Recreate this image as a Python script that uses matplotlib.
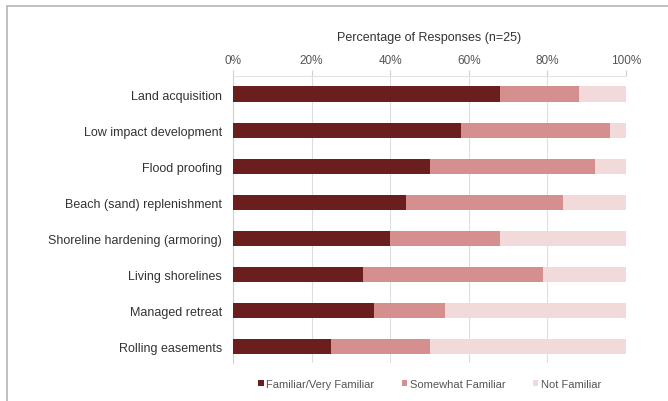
import numpy as np
from matplotlib import pyplot as plt
from matplotlib.patches import Rectangle

categories = ['Land acquisition', 'Low impact development', 'Flood proofing',
              'Beach (sand) replenishment', 'Shoreline hardening (armoring)',
              'Living shorelines', 'Managed retreat', 'Rolling easements']
familiar = np.array([68, 58, 50, 44, 40, 33, 36, 25])
somewhat = np.array([20, 38, 42, 40, 28, 46, 18, 25])
not_familiar = 100 - familiar - somewhat
series_names = ['Familiar/Very Familiar', 'Somewhat Familiar', 'Not Familiar']
colors = ['#6b1e1e', '#d68f8f', '#f3dada']

plt.rcParams['font.family'] = ['Liberation Sans', 'DejaVu Sans']

fig = plt.figure(figsize=(6.68, 4.02), dpi=100)
ax = fig.add_axes([233/668, 1 - 364/402, 393/668, (364 - 77)/402])

y = np.arange(len(categories))
h = 0.42
ax.barh(y, familiar, height=h, color=colors[0], label=series_names[0], zorder=3)
ax.barh(y, somewhat, left=familiar, height=h, color=colors[1], label=series_names[1], zorder=3)
ax.barh(y, not_familiar, left=familiar + somewhat, height=h, color=colors[2], label=series_names[2], zorder=3)

ax.set_xlim(0, 100)
ax.set_ylim(7.45, -0.5)
ax.set_yticks(y, categories)
ax.set_xticks(np.arange(0, 101, 20), [f'{v}%' for v in range(0, 101, 20)])
ax.xaxis.tick_top()
ax.xaxis.set_label_position('top')
ax.set_xlabel('Percentage of Responses (n=25)', fontsize=9, color='#333333', labelpad=10)
ax.tick_params(axis='x', colors='#555555', labelsize=8.5, length=4, color='#d0d0d0')
ax.tick_params(axis='y', labelsize=9, colors='#333333', length=0, pad=8)
ax.grid(axis='x', color='#dedede', linewidth=0.8, zorder=0)
for s in ['right', 'bottom']:
    ax.spines[s].set_visible(False)
ax.spines['top'].set_color('#e4e4e4')
ax.spines['left'].set_color('#d0d0d0')

ax.legend(loc='upper center', bbox_to_anchor=(0.5, -0.02), ncol=3, frameon=False,
          fontsize=8, handlelength=0.5, handleheight=0.5, handletextpad=0.2,
          columnspacing=2.5, labelcolor='#555555')

# outer frame, open at right and bottom like the cropped original
fig.patches.append(Rectangle((7/668, -0.05), 1.0, 1 - 7/402 + 0.05, transform=fig.transFigure,
                             fill=False, edgecolor='#b5b5b5', linewidth=1.2))

plt.savefig('out.png', dpi=100)
